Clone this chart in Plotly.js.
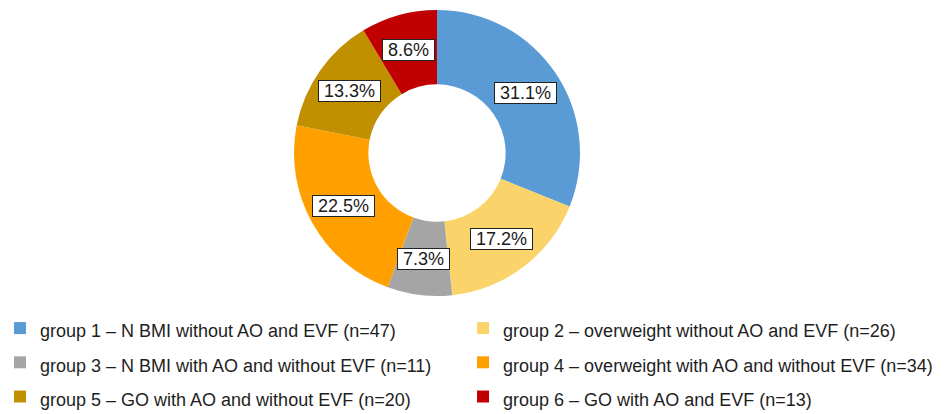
<!DOCTYPE html>
<html><head><meta charset="utf-8">
<script src="https://cdn.plot.ly/plotly-3.0.1.min.js"></script>
<style>html,body{margin:0;padding:0;background:#fff;}#chart{width:945px;height:414px;}</style>
</head><body><div id="chart"></div>
<script>
const groups = [
  "group 1 \u2013 N BMI without AO and EVF (n=47)",
  "group 2 \u2013 overweight without AO and EVF (n=26)",
  "group 3 \u2013 N BMI with AO and without EVF (n=11)",
  "group 4 \u2013 overweight with AO and without EVF (n=34)",
  "group 5 \u2013 GO with AO and without EVF (n=20)",
  "group 6 \u2013 GO with AO and EVF (n=13)"
];
const percents = [31.1, 17.2, 7.3, 22.5, 13.3, 8.6];
const colors = ["#5B9BD5", "#FAD46A", "#A5A5A5", "#FFA000", "#C09000", "#C00000"];

const W = 945, H = 414;
const cx = 437, cy = 153, R = 143, hole = 0.48;
const domY = [1 - (cy + R) / H, 1 - (cy - R) / H];
const domX = [(cx - R) / W, (cx + R) / W];

const trace = {
  type: "pie",
  labels: groups.map(g => '<span style="font-size:18px">' + g + '</span>'),
  values: percents,
  marker: {colors: colors, line: {width: 0}},
  hole: hole,
  sort: false,
  direction: "clockwise",
  rotation: 0,
  textinfo: "none",
  domain: {x: domX, y: domY},
  hoverinfo: "label+value"
};

const total = percents.reduce((a, b) => a + b, 0);
let cum = 0;
const rLab = R * 0.75;
const annotations = percents.map(p => {
  const mid = (cum + p / 2) / total * 2 * Math.PI;
  cum += p;
  const px = cx + rLab * Math.sin(mid);
  const py = cy - rLab * Math.cos(mid);
  return {
    x: px / W, y: 1 - py / H, xref: "paper", yref: "paper",
    xanchor: "center", yanchor: "middle",
    text: "\u00a0" + p.toFixed(1) + "%\u00a0", showarrow: false,
    font: {family: "Liberation Sans, Arial, sans-serif", size: 18, color: "#1a1a1a"},
    bgcolor: "#ffffff", bordercolor: "#222222", borderwidth: 1, borderpad: 0
  };
});

const layout = {
  width: W, height: H,
  margin: {l: 0, r: 0, t: 0, b: 0, autoexpand: false},
  paper_bgcolor: "#ffffff",
  showlegend: true,
  legend: {
    orientation: "h",
    x: 0, xanchor: "left",
    y: 1 - 306 / H, yanchor: "top",
    font: {family: "Liberation Sans, Arial, sans-serif", size: 24, color: "#1e1e1e"},
    entrywidth: 0.49, entrywidthmode: "fraction",
    itemwidth: 30,
    traceorder: "normal"
  },
  annotations: annotations
};

Plotly.newPlot("chart", [trace], layout, {displayModeBar: false, staticPlot: true});
</script>
</body></html>
